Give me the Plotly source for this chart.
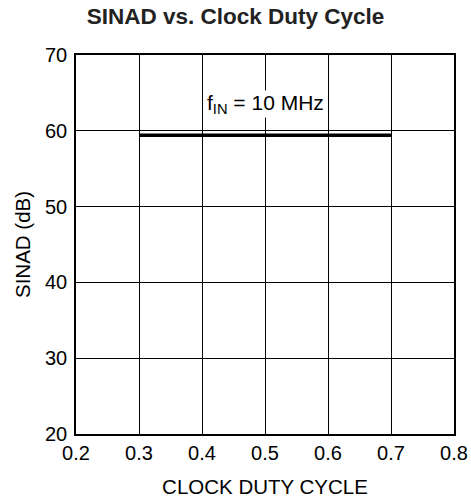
import plotly.graph_objects as go

duty_cycle = [0.3, 0.4, 0.5, 0.6, 0.7]
sinad_db = [59.4, 59.4, 59.4, 59.4, 59.4]
x_ticks = [0.2, 0.3, 0.4, 0.5, 0.6, 0.7, 0.8]
y_ticks = [20, 30, 40, 50, 60, 70]

FONT = "Liberation Sans, Arial, Helvetica"

fig = go.Figure()
fig.add_trace(go.Scatter(x=duty_cycle, y=sinad_db, mode="lines",
                         line=dict(color="black", width=3.5), showlegend=False))

fig.add_annotation(x=0.5, y=63.6, text="f<sub>IN</sub> = 10 MHz", showarrow=False,
                   font=dict(family=FONT, size=21, color="black"),
                   bgcolor="white", xanchor="center", yanchor="middle", borderpad=0)

axis_common = dict(showline=True, linecolor="black", linewidth=1.5, mirror=True,
                   showgrid=True, gridcolor="black", gridwidth=1, zeroline=False,
                   automargin=False,
                   ticks="", tickfont=dict(family=FONT, size=20, color="black"))

fig.update_xaxes(range=[0.2, 0.8], tickvals=x_ticks, ticktext=[f"{v:.1f}" for v in x_ticks],
                 title=dict(text="CLOCK DUTY CYCLE", font=dict(family=FONT, size=20.5, color="black"),
                            standoff=17), **axis_common)
fig.update_yaxes(range=[20, 70], tickvals=y_ticks, ticktext=[str(v) for v in y_ticks],
                 ticklabelstandoff=3,
                 title=dict(text="SINAD (dB)", font=dict(family=FONT, size=20.5, color="black"),
                            standoff=9), **axis_common)

fig.update_layout(
    width=471, height=501,
    margin=dict(l=76, r=17, t=55, b=67),
    plot_bgcolor="white", paper_bgcolor="white",
    title=dict(text="<b>SINAD vs. Clock Duty Cycle</b>", x=0.5, xanchor="center", y=0.967, yanchor="middle",
               font=dict(family=FONT, size=22.5, color="#222222")),
)

fig.write_html("out.html", config={"displayModeBar": False},
               post_script="document.body.style.margin='0px';document.body.style.overflow='hidden';")
